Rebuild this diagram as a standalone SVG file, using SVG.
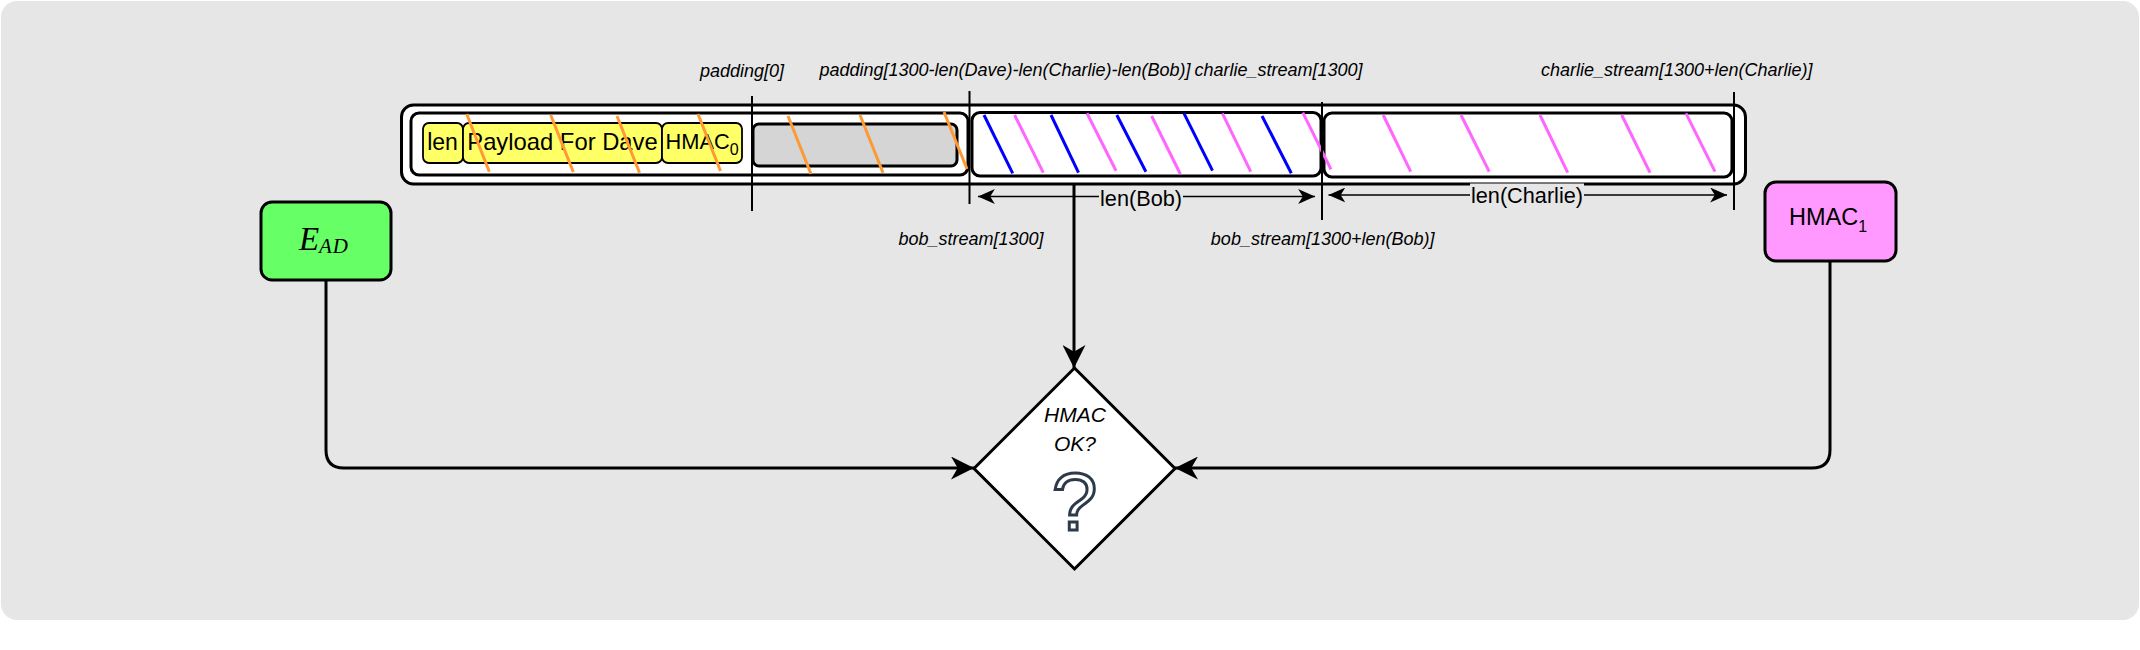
<svg xmlns="http://www.w3.org/2000/svg" width="2140" height="650" viewBox="0 0 2140 650">
  <style>
    .lbl { font-family: "Liberation Sans", Arial, Helvetica, sans-serif; font-style: italic; font-size: 18px; fill: #000; text-anchor: middle; }
    .txt { font-family: "Liberation Sans", Arial, Helvetica, sans-serif; fill: #000; }
    .sec { fill: #fff; stroke: #000; stroke-width: 3; }
    .yel { fill: #ffff66; stroke: #000; stroke-width: 1.8; }
    .mark { stroke: #000; stroke-width: 2; fill: none; }
    .or { stroke: #ff9933; stroke-width: 3; }
    .bl { stroke: #0000ff; stroke-width: 3; }
    .pk { stroke: #ff66ff; stroke-width: 3; }
    .conn { fill: none; stroke: #000; stroke-width: 3; }
    .dim { fill: none; stroke: #000; stroke-width: 1.6; }
  </style>
  <defs>
    <marker id="big" viewBox="0 0 24 24" refX="24" refY="12" markerWidth="23" markerHeight="23" markerUnits="userSpaceOnUse" orient="auto">
      <path d="M0,0 L24,12 L0,24 L7,12 Z" fill="#000"/>
    </marker>
    <marker id="small" viewBox="0 0 18 16" refX="18" refY="8" markerWidth="17" markerHeight="15" markerUnits="userSpaceOnUse" orient="auto-start-reverse">
      <path d="M0,0 L18,8 L0,16 L5,8 Z" fill="#000"/>
    </marker>
  </defs>

  <rect x="1" y="1" width="2138" height="619" rx="16" fill="#e6e6e6"/>

  <g id="packet">
    <rect x="401.5" y="105" width="1344" height="79" rx="12" class="sec"/>
    <rect id="dave" x="411" y="113" width="557" height="62" rx="8" class="sec"/>
    <rect id="len" x="423" y="123" width="40" height="40" rx="6" class="yel"/>
    <rect id="payload" x="463" y="123" width="199" height="40" rx="6" class="yel"/>
    <rect id="hmac0" x="662" y="123" width="80" height="40" rx="6" class="yel"/>
    <rect id="padding" x="753" y="124" width="204" height="42" rx="6" fill="#d5d5d5" stroke="#000" stroke-width="3"/>
    <rect id="bob" x="972" y="112.5" width="349" height="63.5" rx="8" class="sec"/>
    <rect id="charlie" x="1324" y="113" width="408" height="64" rx="8" class="sec"/>
    <text class="txt" x="442.5" y="149.5" font-size="23" text-anchor="middle">len</text>
    <text class="txt" x="562.5" y="149.5" font-size="23.8" text-anchor="middle">Payload For Dave</text>
    <text class="txt" x="665.5" y="148.5" font-size="21.8">HMAC<tspan font-size="16" dy="6.5">0</tspan></text>
    <g id="stripes">
      <line class="or" x1="466.7" y1="114" x2="489.3" y2="171.7"/>
      <line class="or" x1="550.7" y1="115" x2="573.3" y2="172"/>
      <line class="or" x1="617" y1="116" x2="639.5" y2="172.7"/>
      <line class="or" x1="698" y1="114" x2="720.5" y2="171"/>
      <line class="or" x1="788" y1="116" x2="811" y2="174"/>
      <line class="or" x1="860" y1="115" x2="883" y2="172.7"/>
      <line class="or" x1="944" y1="112" x2="967" y2="169"/>
      <line class="bl" x1="984" y1="115" x2="1012.7" y2="173.3"/>
      <line class="bl" x1="1051" y1="115" x2="1078.5" y2="172.7"/>
      <line class="bl" x1="1116.8" y1="115" x2="1145.9" y2="171.7"/>
      <line class="bl" x1="1184" y1="113.3" x2="1212.5" y2="170.7"/>
      <line class="bl" x1="1262" y1="116" x2="1291.3" y2="173.3"/>
      <line class="pk" x1="1014.6" y1="115" x2="1043.3" y2="172.7"/>
      <line class="pk" x1="1087" y1="113.3" x2="1116" y2="170.7"/>
      <line class="pk" x1="1151.6" y1="116" x2="1180.3" y2="174"/>
      <line class="pk" x1="1222.4" y1="113.3" x2="1250.7" y2="171.7"/>
      <line class="pk" x1="1302.8" y1="112.7" x2="1331" y2="169.3"/>
      <line class="pk" x1="1383.2" y1="115" x2="1410.7" y2="171.7"/>
      <line class="pk" x1="1461" y1="115" x2="1489.2" y2="171.7"/>
      <line class="pk" x1="1540" y1="115" x2="1567.7" y2="172.7"/>
      <line class="pk" x1="1621.7" y1="115" x2="1650" y2="172.7"/>
      <line class="pk" x1="1686" y1="113.3" x2="1715" y2="171.7"/>
    </g>
  </g>

  <g id="markers">
    <line class="mark" x1="752" y1="96" x2="752" y2="211"/>
    <line class="mark" x1="969.5" y1="91" x2="969.5" y2="204"/>
    <line class="mark" x1="1322" y1="102" x2="1322" y2="220"/>
    <line class="mark" x1="1734" y1="92" x2="1734" y2="210"/>
  </g>

  <g id="labels">
    <text class="lbl" x="742" y="77">padding[0]</text>
    <text class="lbl" x="1005" y="76">padding[1300-len(Dave)-len(Charlie)-len(Bob)]</text>
    <text class="lbl" x="1278.5" y="76">charlie_stream[1300]</text>
    <text class="lbl" x="1676.7" y="76">charlie_stream[1300+len(Charlie)]</text>
    <text class="lbl" x="971" y="245">bob_stream[1300]</text>
    <text class="lbl" x="1322.7" y="245">bob_stream[1300+len(Bob)]</text>
  </g>

  <g id="dimensions">
    <line class="dim" x1="978" y1="196.5" x2="1315" y2="196.5" marker-start="url(#small)" marker-end="url(#small)"/>
    <rect x="1099" y="186" width="84" height="22" fill="#e6e6e6"/>
    <text class="txt" x="1141" y="206" font-size="21.7" text-anchor="middle">len(Bob)</text>
    <line class="dim" x1="1328.5" y1="195" x2="1727" y2="195" marker-start="url(#small)" marker-end="url(#small)"/>
    <rect x="1470" y="183.5" width="114" height="24" fill="#e6e6e6"/>
    <text class="txt" x="1527" y="203.3" font-size="21.7" text-anchor="middle">len(Charlie)</text>
  </g>

  <g id="connectors">
    <path class="conn" d="M1074,185 V368" marker-end="url(#big)"/>
    <path class="conn" d="M326,280 V450 Q326,468 344,468 H974" marker-end="url(#big)"/>
    <path class="conn" d="M1830,261 V450 Q1830,468 1812,468 H1175" marker-end="url(#big)"/>
  </g>

  <g id="ead">
    <rect x="261" y="202" width="130" height="78" rx="11" fill="#66ff66" stroke="#000" stroke-width="3"/>
    <text x="299" y="250" font-family="'Liberation Serif', 'Times New Roman', serif" font-style="italic" font-size="33">E<tspan x="319" dy="3" font-size="21" letter-spacing="1">AD</tspan></text>
  </g>

  <g id="hmac1">
    <rect x="1765" y="182" width="131" height="79" rx="11" fill="#ff99ff" stroke="#000" stroke-width="3"/>
    <text class="txt" x="1789" y="225" font-size="23.5">HMAC<tspan font-size="16" dy="6.5">1</tspan></text>
  </g>

  <g id="decision">
    <polygon points="1074.5,368 1175,468.5 1074.5,569 974,468.5" fill="#fff" stroke="#000" stroke-width="3"/>
    <text class="txt" x="1075" y="421.5" font-size="21" font-style="italic" text-anchor="middle">HMAC</text>
    <text class="txt" x="1075" y="450.5" font-size="21" font-style="italic" text-anchor="middle">OK?</text>
    <text x="1074.5" y="530" font-family="'Liberation Sans', Arial, sans-serif" font-size="82" text-anchor="middle" fill="#fff" stroke="#2e3a4b" stroke-width="3">?</text>
  </g>
</svg>
